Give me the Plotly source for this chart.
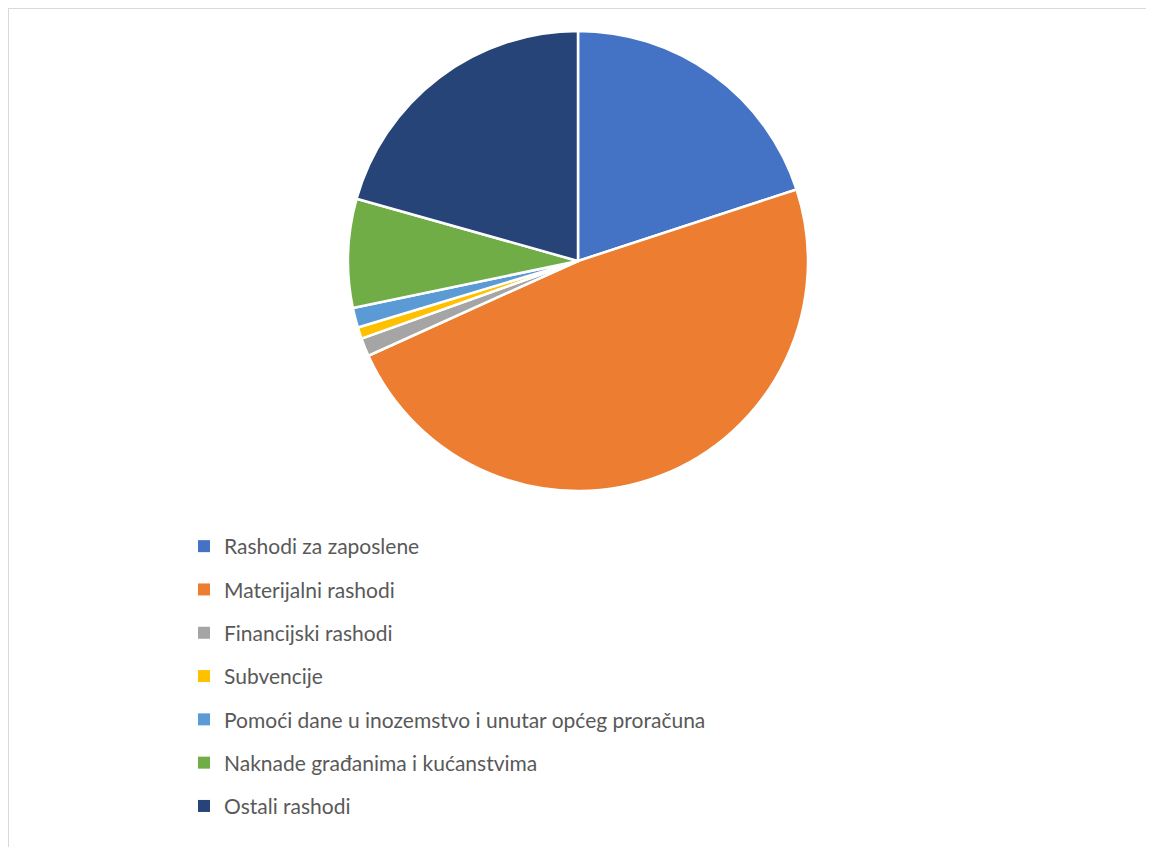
import plotly.graph_objects as go

categories = [
    "Rashodi za zaposlene",
    "Materijalni rashodi",
    "Financijski rashodi",
    "Subvencije",
    "Pomoći dane u inozemstvo i unutar općeg proračuna",
    "Naknade građanima i kućanstvima",
    "Ostali rashodi",
]
values = [19.97, 48.28, 1.28, 0.81, 1.39, 7.64, 20.64]
colors = ["#4472C4", "#ED7D31", "#A5A5A5", "#FFC000", "#5B9BD5", "#70AD47", "#264478"]

# page has an 8px body margin; figure is sized to fill the remaining window
W, H = 1146, 839
cx, cy, r = 570, 253, 230

fig = go.Figure()
fig.add_trace(go.Pie(
    labels=categories,
    values=values,
    sort=False,
    direction="clockwise",
    rotation=0,
    textinfo="none",
    hoverinfo="label+percent",
    marker=dict(colors=colors, line=dict(color="white", width=2.5)),
    domain=dict(x=[(cx - r) / W, (cx + r) / W], y=[1 - (cy + r) / H, 1 - (cy - r) / H]),
    showlegend=False,
))

for i, (name, col) in enumerate(zip(categories, colors)):
    fig.add_trace(go.Scatter(
        x=[None], y=[None], mode="markers", name=name,
        marker=dict(symbol="square", size=8, color=col),
        legendgroup=f"g{i}", showlegend=True, hoverinfo="skip",
    ))

fig.update_layout(
    width=W, height=H,
    margin=dict(l=0, r=0, t=0, b=0),
    paper_bgcolor="white", plot_bgcolor="white",
    xaxis=dict(visible=False), yaxis=dict(visible=False),
    font=dict(family="Lato, Open Sans, sans-serif", color="#595959"),
    legend=dict(
        x=176 / W, y=1 - 518 / H, xanchor="left", yanchor="top",
        font=dict(size=21, color="#595959"),
        traceorder="grouped", tracegroupgap=13,
        itemsizing="constant", bgcolor="rgba(0,0,0,0)",
    ),
    shapes=[
        dict(type="line", xref="paper", yref="paper", x0=0, y0=0, x1=0, y1=1,
             line=dict(color="#D9D9D9", width=2)),
        dict(type="line", xref="paper", yref="paper", x0=0, y0=1, x1=1, y1=1,
             line=dict(color="#D9D9D9", width=2)),
        dict(type="line", xref="paper", yref="paper", x0=1, y0=0, x1=1, y1=1,
             line=dict(color="#D9D9D9", width=2)),
    ],
)

fig.write_html("out.html")
